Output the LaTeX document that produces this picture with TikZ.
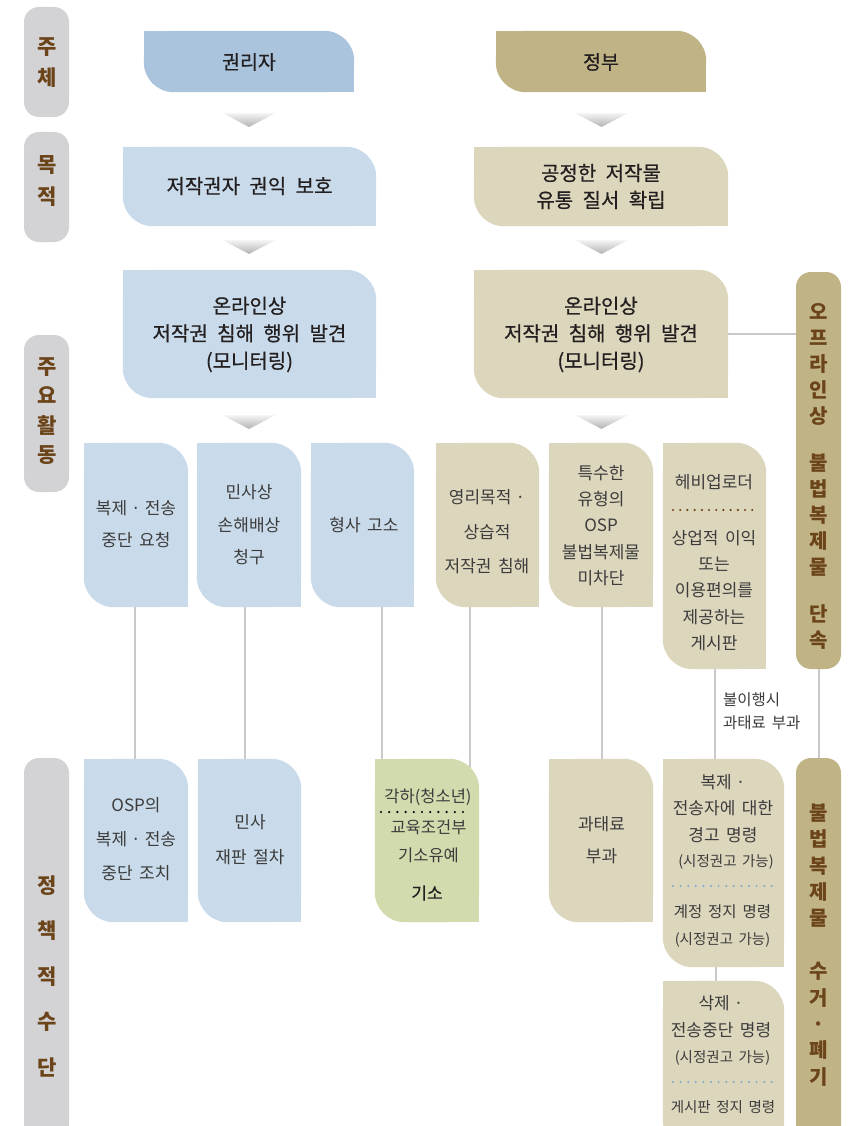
\documentclass[tikz,border=0pt]{standalone}
\usepackage{fontspec}
\setmainfont{Noto Sans CJK KR}[WordSpace=1.7]
\newfontfamily\hdfont{Noto Sans CJK KR}[WordSpace=2.1, FakeBold=0.6]
\usetikzlibrary{calc}
\pgfdeclarelayer{lines}
\pgfdeclarelayer{shapes}
\pgfsetlayers{lines,shapes,main}

\definecolor{lblgray}{HTML}{D3D3D5}
\definecolor{lbltxt}{HTML}{6B4419}
\definecolor{blueA}{HTML}{A9C4DC}
\definecolor{blueB}{HTML}{C9DBEA}
\definecolor{tanA}{HTML}{C0B386}
\definecolor{tanB}{HTML}{DCD6BC}
\definecolor{greenB}{HTML}{D2DBAE}
\definecolor{linegray}{HTML}{C9C9CC}
\definecolor{txt}{HTML}{231F20}
\definecolor{txtl}{HTML}{3C3C3C}
\definecolor{dotblue}{HTML}{7AA8D2}
\definecolor{dotbrown}{HTML}{6B4419}

\newcommand\md{\kern4pt·\kern4pt}

% leaf box: name, colour, x1, y1, x2, y2
\newcommand\mkleaf[6]{%
  \node[inner sep=0pt, minimum width={#5pt-#3pt}, minimum height={#6pt-#4pt}] (#1) at ({(#3+#5)/2},{(#4+#6)/2}) {};
  \begin{pgfonlayer}{shapes}
    \fill[#2, rounded corners=30pt] (#1.south west) rectangle (#1.north east);
    \fill[#2] (#1.north west) rectangle (#1.center);
    \fill[#2] (#1.center) rectangle (#1.south east);
  \end{pgfonlayer}}
% rounded pill: name, colour, x1, y1, x2, y2
\newcommand\mkpill[6]{%
  \node[inner sep=0pt, fill=#2, rounded corners=15pt, minimum width={#5pt-#3pt}, minimum height={#6pt-#4pt}] (#1) at ({(#3+#5)/2},{(#4+#6)/2}) {};}
\newcommand\mktri[2]{%
  \shade[top color=gray!8, bottom color=gray!60] ({#1-26.5},#2) -- ({#1+26.5},#2) -- (#1,{#2+14}) -- cycle;}

\tikzset{
  hd/.style={font=\hdfont\fontsize{20}{27.5}\selectfont, text=txt, align=center, inner sep=0pt},
  sm/.style={font=\fontsize{17}{32}\selectfont, text=txtl, align=center, inner sep=0pt},
  vlab/.style={font=\bfseries\fontsize{21}{31}\selectfont, text=lbltxt, align=center, inner sep=0pt},
  conn/.style={draw=linegray, line width=2.6pt},
  dotrow/.style={line width=2.4pt, line cap=round, dash pattern=on 0pt off 7.2pt},
}

\begin{document}
\begin{tikzpicture}[x=1pt,y=-1pt]
\useasboundingbox (0,0) rectangle (853,1126);
\begin{pgfonlayer}{lines}
  \fill[white] (0,0) rectangle (853,1126);
\end{pgfonlayer}

% ---------- left labels ----------
\mkpill{L1}{lblgray}{24}{7}{69}{117}
\mkpill{L2}{lblgray}{24}{132}{69}{242}
\mkpill{L3}{lblgray}{24}{335}{69}{492}
\mkpill{L4}{lblgray}{24}{758}{69}{1140}
\node[vlab] (L1t) at (47,62.5) {주\\체};
\node[vlab, font=\bfseries\fontsize{21}{32}\selectfont] (L2t) at (47,181) {목\\적};
\node[vlab, font=\bfseries\fontsize{21}{29.3}\selectfont] (L3t) at (47,411) {주\\요\\활\\동};
\node[vlab, font=\bfseries\fontsize{21}{45.5}\selectfont] (L4t) at (47,976) {정\\책\\적\\수\\단};

% ---------- header boxes ----------
\mkleaf{kL}{blueA}{144}{31}{354}{92}
\mkleaf{kR}{tanA}{496}{31}{706}{92}
\node[hd, font=\hdfont\fontsize{19.5}{27}\selectfont] (kLt) at (249,62) {권리자};
\node[hd, font=\hdfont\fontsize{19.5}{27}\selectfont] (kRt) at (601,62) {정부};

\mkleaf{pL}{blueB}{123}{147}{376}{226}
\mkleaf{pR}{tanB}{474}{147}{728}{226}
\node[hd] (pLt) at (249.5,186) {저작권자 권익 보호};
\node[hd, font=\hdfont\fontsize{20}{27}\selectfont] (pRt) at (601,186.5) {공정한 저작물\\유통 질서 확립};

\mkleaf{aL}{blueB}{123}{270}{376}{398}
\mkleaf{aR}{tanB}{474}{270}{728}{398}
\node[hd] (aLt) at (249.5,334.5) {온라인상\\저작권 침해 행위 발견\\(모니터링)};
\node[hd] (aRt) at (601,334.5) {온라인상\\저작권 침해 행위 발견\\(모니터링)};

\mktri{249}{113}
\mktri{249}{240}
\mktri{249}{415}
\mktri{601.5}{113}
\mktri{601.5}{240}
\mktri{601.5}{415}

% ---------- offline column ----------
\mkpill{off}{tanA}{796}{272}{841}{669}
\node[vlab, font=\bfseries\fontsize{20}{26}\selectfont] (offt) at (818.5,476.5)
  {오\\프\\라\\인\\상\\[21pt]불\\법\\복\\제\\물\\[21pt]단\\속};
\mkpill{col}{tanA}{796}{758}{841}{1150}
\node[vlab, font=\bfseries\fontsize{20}{26.4}\selectfont] (colt) at (818.5,945)
  {불\\법\\복\\제\\물\\[26.4pt]수\\거\\·\\폐\\기};

% ---------- activity row ----------
\mkleaf{s1}{blueB}{84}{443}{188}{607}
\mkleaf{s2}{blueB}{197}{443}{301}{607}
\mkleaf{s3}{blueB}{311}{443}{414}{607}
\mkleaf{s4}{tanB}{436}{443}{539}{607}
\mkleaf{s5}{tanB}{549}{443}{653}{607}
\mkleaf{s6}{tanB}{663}{443}{766}{669}
\node[sm] (s1t) at (136,524) {복제\md 전송\\중단 요청};
\node[sm, font=\fontsize{17}{32.5}\selectfont] (s2t) at (249,525) {민사상\\손해배상\\청구};
\node[sm] (s3t) at (364,525) {형사 고소};
\node[sm, font=\fontsize{17}{34.5}\selectfont] (s4t) at (487,532) {영리목적\kern4pt·\\상습적\\저작권 침해};
\node[sm, font=\fontsize{17}{26.3}\selectfont] (s5t) at (601,525.5) {특수한\\유형의\\OSP\\불법복제물\\미차단};
\node[sm] (s6a) at (714,482) {헤비업로더};
\draw[dotrow, dotbrown] (673,510) -- (756,510);
\node[sm, font=\fontsize{17}{26.25}\selectfont] (s6b) at (714,590.5) {상업적 이익\\또는\\이용편의를\\제공하는\\게시판};

\node[sm, font=\fontsize{15.5}{23}\selectfont, align=left, anchor=west] (nonc) at (723,711.5) {불이행시\\과태료 부과};

% ---------- policy row ----------
\mkleaf{c1}{blueB}{84}{759}{188}{922}
\mkleaf{c2}{blueB}{198}{759}{301}{922}
\mkleaf{g}{greenB}{375}{759}{479}{922}
\mkleaf{f}{tanB}{549}{759}{653}{922}
\mkleaf{A}{tanB}{663}{759}{784}{967}
\mkleaf{B}{tanB}{663}{981}{784}{1150}

\node[sm, font=\fontsize{17}{34}\selectfont] (c1t) at (136,839) {OSP의\\복제\md 전송\\중단 조치};
\node[sm, font=\fontsize{17}{35}\selectfont] (c2t) at (250,840) {민사\\재판 절차};
\node[sm, font=\fontsize{16.5}{27}\selectfont] (g1) at (428,797) {각하(청소년)};
\draw[dotrow, black, line width=2.4pt, dash pattern=on 0pt off 8.2pt] (381,812) -- (471,812);
\node[sm, font=\fontsize{16.5}{28}\selectfont] (g2) at (428.5,841) {교육조건부\\기소유예};
\node[sm, font=\hdfont\fontsize{17}{28}\selectfont, text=txt] (g3) at (427,893) {기소};
\node[sm, font=\fontsize{17}{32}\selectfont] (ft) at (601.5,840) {과태료\\부과};

\node[sm, font=\fontsize{17}{26.5}\selectfont] (A1) at (723,808.5) {복제\kern4pt·\\전송자에 대한\\경고 명령};
\node[sm, font=\fontsize{14.5}{20}\selectfont] (A2) at (726,862) {(시정권고 가능)};
\draw[dotrow, dotblue, line width=2.2pt, dash pattern=on 0pt off 7.6pt] (673,886) -- (773,886);
\node[sm, font=\fontsize{15.5}{26}\selectfont] (A3) at (722.5,912) {계정 정지 명령};
\node[sm, font=\fontsize{14.5}{20}\selectfont] (A4) at (722.5,940) {(시정권고 가능)};

\node[sm, font=\fontsize{17}{27}\selectfont] (B1) at (721,1016.5) {삭제\kern4pt·\\전송중단 명령};
\node[sm, font=\fontsize{14.5}{20}\selectfont] (B2) at (722.5,1058) {(시정권고 가능)};
\draw[dotrow, dotblue, line width=2.2pt, dash pattern=on 0pt off 7.6pt] (673,1082) -- (773,1082);
\node[sm, font=\fontsize{14.5}{20}\selectfont] (B3) at (723,1107) {게시판 정지 명령};

% ---------- connectors ----------
\begin{pgfonlayer}{lines}
  \draw[conn] (aR.east) -- (off.west |- aR.east);
  \draw[conn] (s1.south -| 135,0) -- (c1.north -| 135,0);
  \draw[conn] (s2.south -| 245,0) -- (c2.north -| 245,0);
  \draw[conn] (s3.south -| 382,0) -- (g.north -| 382,0);
  \draw[conn] (s4.south -| 470,0) -- (g.center -| 470,0);
  \draw[conn] (s5.south -| 602,0) -- (f.north -| 602,0);
  \draw[conn] (s6.south -| 715,0) -- (A.north -| 715,0);
  \draw[conn] (A.south -| 716,0) -- (B.north -| 716,0);
  \draw[conn] (off.south -| 819,0) -- (col.north -| 819,0);
\end{pgfonlayer}
\end{tikzpicture}
\end{document}
